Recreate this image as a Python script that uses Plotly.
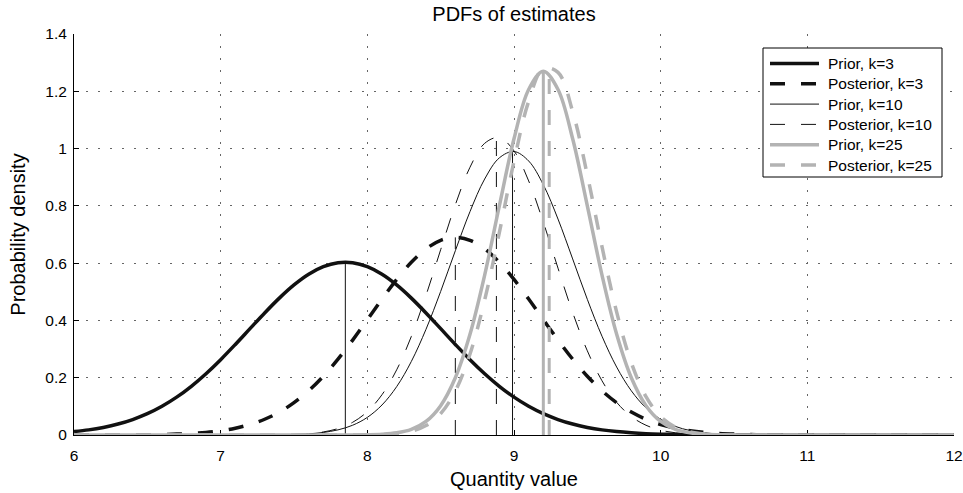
import plotly.graph_objects as go

# Sample positions along the quantity axis
x_grid = [6.0, 6.1, 6.2, 6.3, 6.4, 6.5, 6.6, 6.7, 6.8, 6.9,
          7.0, 7.1, 7.2, 7.3, 7.4, 7.5, 7.6, 7.7, 7.8, 7.9,
          8.0, 8.1, 8.2, 8.3, 8.4, 8.5, 8.6, 8.7, 8.8, 8.9,
          9.0, 9.1, 9.2, 9.3, 9.4, 9.5, 9.6, 9.7, 9.8, 9.9,
          10.0, 10.1, 10.2, 10.3, 10.4, 10.5, 10.6, 10.7, 10.8, 10.9,
          11.0, 11.1, 11.2, 11.3, 11.4, 11.5, 11.6, 11.7, 11.8, 11.9,
          12.0]

# Density values on x_grid for each estimate
prior_k3 = [0.0119, 0.0179, 0.0265, 0.0382, 0.0540, 0.0744, 0.1003, 0.1321, 0.1701, 0.2140,
            0.2631, 0.3162, 0.3713, 0.4261, 0.4779, 0.5239, 0.5613, 0.5876, 0.6013, 0.6013,
            0.5876, 0.5613, 0.5239, 0.4779, 0.4261, 0.3713, 0.3162, 0.2631, 0.2140, 0.1701,
            0.1321, 0.1003, 0.0744, 0.0540, 0.0382, 0.0265, 0.0179, 0.0119, 0.0077, 0.0048,
            0.0030, 0.0018, 0.0011, 0.0006, 0.0003, 0.0002, 0.0001, 0, 0, 0,
            0, 0, 0, 0, 0, 0, 0, 0, 0, 0,
            0]

posterior_k3 = [0.0000, 0.0001, 0.0001, 0.0003, 0.0005, 0.0009, 0.0017, 0.0031, 0.0054, 0.0091,
                0.0150, 0.0238, 0.0367, 0.0550, 0.0800, 0.1128, 0.1545, 0.2053, 0.2648, 0.3314,
                0.4026, 0.4746, 0.5431, 0.6031, 0.6499, 0.6797, 0.6900, 0.6797, 0.6499, 0.6031,
                0.5431, 0.4746, 0.4026, 0.3314, 0.2648, 0.2053, 0.1545, 0.1128, 0.0800, 0.0550,
                0.0367, 0.0238, 0.0150, 0.0091, 0.0054, 0.0031, 0.0017, 0.0009, 0.0005, 0.0003,
                0.0001, 0.0001, 0, 0, 0, 0, 0, 0, 0, 0,
                0]

prior_k10 = [0, 0, 0, 0, 0, 0, 0, 0, 0, 0,
             0, 0.0000, 0.0001, 0.0003, 0.0008, 0.0018, 0.0041, 0.0089, 0.0179, 0.0341,
             0.0615, 0.1048, 0.1688, 0.2568, 0.3691, 0.5012, 0.6433, 0.7800, 0.8937, 0.9675,
             0.9897, 0.9566, 0.8737, 0.7539, 0.6147, 0.4736, 0.3448, 0.2372, 0.1542, 0.0947,
             0.0549, 0.0301, 0.0156, 0.0076, 0.0035, 0.0015, 0.0006, 0.0002, 0.0001, 0,
             0, 0, 0, 0, 0, 0, 0, 0, 0, 0,
             0]

posterior_k10 = [0, 0, 0, 0, 0, 0, 0, 0, 0, 0,
                 0, 0, 0.0001, 0.0003, 0.0008, 0.0020, 0.0048, 0.0107, 0.0225, 0.0443,
                 0.0816, 0.1407, 0.2275, 0.3441, 0.4876, 0.6470, 0.8037, 0.9349, 1.0183, 1.0386,
                 0.9919, 0.8870, 0.7428, 0.5824, 0.4276, 0.2939, 0.1892, 0.1140, 0.0644, 0.0340,
                 0.0168, 0.0078, 0.0034, 0.0014, 0.0005, 0.0002, 0.0001, 0, 0, 0,
                 0, 0, 0, 0, 0, 0, 0, 0, 0, 0,
                 0]

prior_k25 = [0, 0, 0, 0, 0, 0, 0, 0, 0, 0,
             0, 0, 0, 0, 0, 0, 0, 0, 0.0001, 0.0002,
             0.0008, 0.0025, 0.0075, 0.0198, 0.0474, 0.1025, 0.1999, 0.3517, 0.5583, 0.7999,
             1.0341, 1.2064, 1.2700, 1.2064, 1.0341, 0.7999, 0.5583, 0.3517, 0.1999, 0.1025,
             0.0474, 0.0198, 0.0075, 0.0025, 0.0008, 0.0002, 0.0001, 0, 0, 0,
             0, 0, 0, 0, 0, 0, 0, 0, 0, 0,
             0]

posterior_k25 = [0, 0, 0, 0, 0, 0, 0, 0, 0, 0,
                 0, 0, 0, 0, 0, 0, 0, 0, 0, 0.0001,
                 0.0004, 0.0015, 0.0046, 0.0130, 0.0328, 0.0747, 0.1531, 0.2829, 0.4711, 0.7069,
                 0.9560, 1.1649, 1.2793, 1.2661, 1.1291, 0.9075, 0.6573, 0.4290, 0.2523, 0.1338,
                 0.0639, 0.0275, 0.0107, 0.0037, 0.0012, 0.0003, 0.0001, 0, 0, 0,
                 0, 0, 0, 0, 0, 0, 0, 0, 0, 0,
                 0]

series_names = ["Prior, k=3", "Posterior, k=3", "Prior, k=10",
                "Posterior, k=10", "Prior, k=25", "Posterior, k=25"]
series_values = [prior_k3, posterior_k3, prior_k10,
                 posterior_k10, prior_k25, posterior_k25]

# Location and height of each density's mode (marked by a vertical line)
peak_x = [7.85, 8.60, 8.99, 8.88, 9.20, 9.24]
peak_y = [0.603, 0.690, 0.990, 1.040, 1.270, 1.290]

BLACK = "#111111"
GRAY = "#b3b3b3"
DASH = "15px,16px"

curve_styles = [
    dict(color=BLACK, width=3.5, dash="solid"),
    dict(color=BLACK, width=3.5, dash=DASH),
    dict(color=BLACK, width=1.0, dash="solid"),
    dict(color=BLACK, width=1.0, dash=DASH),
    dict(color=GRAY, width=3.5, dash="solid"),
    dict(color=GRAY, width=3.5, dash=DASH),
]
mode_line_styles = [
    dict(color=BLACK, width=1.0, dash="solid"),
    dict(color=BLACK, width=1.0, dash=DASH),
    dict(color=BLACK, width=1.0, dash="solid"),
    dict(color=BLACK, width=1.0, dash=DASH),
    dict(color=GRAY, width=3.0, dash="solid"),
    dict(color=GRAY, width=3.0, dash=DASH),
]

FONT = "Liberation Sans, Arial, Helvetica, sans-serif"

W, H = 963, 493
M_L, M_R, M_T, M_B = 74, 9, 34, 58
PLOT_W = W - M_L - M_R
PLOT_H = H - M_T - M_B


def paper_x(px):
    return (px - M_L) / PLOT_W


def paper_y(py):
    return (H - M_B - py) / PLOT_H


fig = go.Figure()
for ys, cstyle, vstyle, mx, my in zip(series_values, curve_styles,
                                      mode_line_styles, peak_x, peak_y):
    fig.add_trace(go.Scatter(
        x=x_grid, y=ys, mode="lines", showlegend=False,
        line=dict(shape="spline", smoothing=1.0, **cstyle),
        hoverinfo="skip",
    ))
    fig.add_trace(go.Scatter(
        x=[mx, mx], y=[0, my], mode="lines", showlegend=False,
        line=vstyle, hoverinfo="skip",
    ))

# Boxed legend in the upper-right corner of the axes
box_left, box_right, box_top, box_bottom = 763, 942, 48, 177
sample_x0, sample_x1, label_x = 770, 819, 826
row_y0, row_step = 63.5, 20.3

shapes = [dict(type="rect", xref="paper", yref="paper", layer="above",
               x0=paper_x(box_left), x1=paper_x(box_right),
               y0=paper_y(box_bottom), y1=paper_y(box_top),
               fillcolor="white", line=dict(color="black", width=1))]
annotations = []
for i, (name, cstyle) in enumerate(zip(series_names, curve_styles)):
    ry = row_y0 + i * row_step
    shapes.append(dict(type="line", xref="paper", yref="paper", layer="above",
                       x0=paper_x(sample_x0), x1=paper_x(sample_x1),
                       y0=paper_y(ry), y1=paper_y(ry), line=cstyle))
    annotations.append(dict(text=name, xref="paper", yref="paper",
                            x=paper_x(label_x), y=paper_y(ry),
                            xanchor="left", yanchor="middle", showarrow=False,
                            font=dict(family=FONT, size=15.5, color="black")))

axis_common = dict(
    showgrid=True, gridcolor="#666666", gridwidth=1, griddash="2px,10px",
    ticks="inside", ticklen=5, tickwidth=1, tickcolor="black",
    showline=True, linecolor="black", linewidth=1, mirror=False,
    zeroline=False, tickfont=dict(family=FONT, size=15.5, color="black"),
    layer="below traces", automargin=False,
)

fig.update_layout(
    width=W, height=H,
    margin=dict(l=M_L, r=M_R, t=M_T, b=M_B, autoexpand=False),
    paper_bgcolor="white", plot_bgcolor="white",
    font=dict(family=FONT, color="black"),
    title=dict(text="PDFs of estimates", x=0.5, xref="paper", xanchor="center",
               y=1 - 14 / H, yref="container", yanchor="middle",
               font=dict(family=FONT, size=20, color="black")),
    xaxis=dict(range=[6, 12], tick0=6, dtick=1, ticklabelstandoff=6,
               title=dict(text="Quantity value", standoff=9,
                          font=dict(family=FONT, size=20, color="black")),
               **axis_common),
    yaxis=dict(range=[0, 1.4], tick0=0, dtick=0.2, ticklabelstandoff=3,
               title=dict(text="Probability density", standoff=14,
                          font=dict(family=FONT, size=20, color="black")),
               **axis_common),
    shapes=shapes,
    annotations=annotations,
    showlegend=False,
)

fig.write_html("out.html")
